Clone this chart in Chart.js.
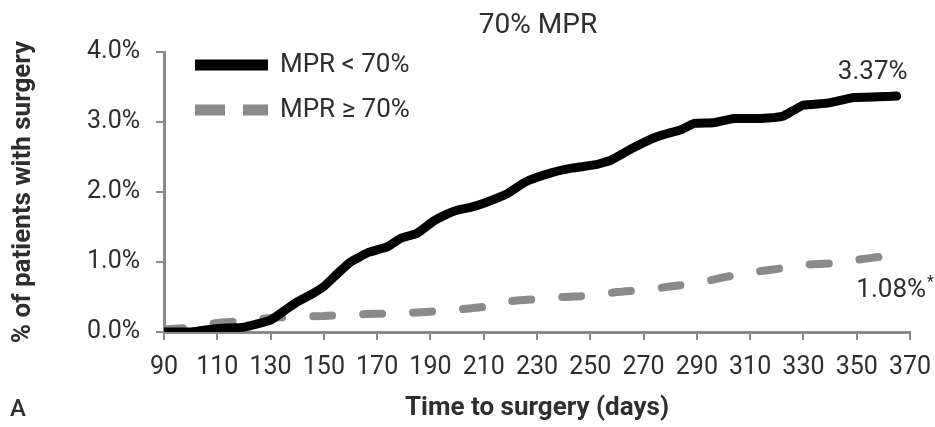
<!DOCTYPE html>
<html lang="en">
<head>
  <meta charset="UTF-8" />
  <title>70% MPR</title>
  <script src="https://cdn.jsdelivr.net/npm/chart.js"></script>
  <style>
    html, body { margin: 0; padding: 0; background: #fff; }
    .wrap { width: 935px; height: 427px; position: relative; }
  </style>
</head>
<body>
  <div class="wrap"><canvas id="mprChart" width="935" height="427"></canvas></div>

  <script>
    // days since start, % of patients with surgery
    const daysLow = [90, 100, 110, 120, 130, 135, 140, 145, 150, 155, 160, 167, 174, 179, 185, 191, 196, 200, 205, 210, 219, 226, 235, 243, 252, 258, 266, 275, 284, 289, 296, 304, 314, 322, 326, 330, 339, 349, 358, 365];
    const mprLow = [0.0, 0.0, 0.05, 0.07, 0.17, 0.30, 0.43, 0.53, 0.65, 0.83, 1.0, 1.14, 1.22, 1.34, 1.41, 1.58, 1.68, 1.74, 1.78, 1.84, 1.98, 2.15, 2.27, 2.34, 2.39, 2.46, 2.63, 2.79, 2.89, 2.98, 2.99, 3.05, 3.05, 3.08, 3.16, 3.24, 3.27, 3.35, 3.36, 3.37];

    const daysHigh = [90, 100, 110, 120, 130, 140, 150, 160, 170, 180, 190, 200, 210, 220, 230, 240, 250, 260, 270, 280, 290, 300, 310, 320, 330, 340, 350, 360];
    const mprHigh = [0.04, 0.06, 0.13, 0.16, 0.20, 0.22, 0.23, 0.25, 0.26, 0.27, 0.29, 0.32, 0.36, 0.44, 0.47, 0.50, 0.52, 0.57, 0.60, 0.65, 0.70, 0.78, 0.85, 0.90, 0.96, 0.98, 1.03, 1.08];

    const seriesNames = ['MPR < 70%', 'MPR \u2265 70%'];
    const endLabels = ['3.37%', '1.08%'];
    const xTicks = { min: 90, max: 370, step: 20 };
    const yTicks = { min: 0, max: 4, step: 1 };

    const FONT = 'Roboto, "Open Sans", sans-serif';
    const TEXT = '#2e2e2e';
    const AXIS = '#8a8a8a';

    const toPoints = (xs, ys) => xs.map((x, i) => ({ x: x, y: ys[i] }));

    // title, legend, panel letter and end-of-line labels
    const extras = {
      id: 'extras',
      afterDraw(chart) {
        const ctx = chart.ctx;
        const xs = chart.scales.x, ys = chart.scales.y;
        ctx.save();
        ctx.fillStyle = TEXT;
        ctx.textBaseline = 'middle';

        ctx.font = '28px ' + FONT;
        ctx.textAlign = 'center';
        ctx.fillText('70% MPR', 538, 26);

        ctx.font = '500 24px ' + FONT;
        ctx.textAlign = 'left';
        ctx.fillText('A', 10, 410);

        // legend
        ctx.lineWidth = 11;
        ctx.strokeStyle = '#000';
        ctx.beginPath(); ctx.moveTo(195, 65); ctx.lineTo(268, 65); ctx.stroke();
        ctx.strokeStyle = AXIS;
        ctx.setLineDash([30, 18]);
        ctx.beginPath(); ctx.moveTo(195, 110); ctx.lineTo(268, 110); ctx.stroke();
        ctx.setLineDash([]);
        ctx.font = '26px ' + FONT;
        ctx.fillText(seriesNames[0], 280, 65);
        ctx.fillText(seriesNames[1], 280, 110);

        // end values
        const lastLow = daysLow.length - 1, lastHigh = daysHigh.length - 1;
        ctx.textAlign = 'center';
        ctx.fillText(endLabels[0], xs.getPixelForValue(daysLow[lastLow]) - 24, ys.getPixelForValue(mprLow[lastLow]) - 24);
        ctx.textAlign = 'left';
        const ex = xs.getPixelForValue(daysHigh[lastHigh]) - 27;
        const ey = ys.getPixelForValue(mprHigh[lastHigh]) + 34;
        ctx.fillText(endLabels[1], ex, ey);
        const w = ctx.measureText(endLabels[1]).width;
        ctx.font = '16px ' + FONT;
        ctx.fillText('*', ex + w + 1, ey - 7);
        ctx.restore();
      }
    };

    new Chart(document.getElementById('mprChart'), {
      type: 'line',
      data: {
        datasets: [
          {
            label: seriesNames[0],
            data: toPoints(daysLow, mprLow),
            borderColor: '#000',
            borderWidth: 9,
            borderCapStyle: 'round',
            borderJoinStyle: 'round',
            pointRadius: 0,
            tension: 0.15
          },
          {
            label: seriesNames[1],
            data: toPoints(daysHigh, mprHigh),
            borderColor: AXIS,
            borderWidth: 8,
            borderDash: [19, 31],
            borderCapStyle: 'round',
            pointRadius: 0,
            tension: 0.2
          }
        ]
      },
      options: {
        responsive: false,
        animation: false,
        layout: { padding: { left: 0, right: 25, top: 52, bottom: 0 } },
        plugins: {
          legend: { display: false },
          tooltip: { enabled: false }
        },
        scales: {
          x: {
            type: 'linear',
            min: xTicks.min,
            max: xTicks.max,
            // fixed axis height; last label is allowed to run into the right margin
            afterFit: s => { s.height = 95; s.paddingRight = 0; s.paddingLeft = 0; },
            ticks: { stepSize: xTicks.step, color: TEXT, padding: 13, font: { family: FONT, size: 25 } },
            grid: { drawOnChartArea: false, drawTicks: true, tickLength: 8, color: AXIS, lineWidth: 2 },
            border: { color: AXIS, width: 3 },
            title: { display: true, text: 'Time to surgery (days)', color: TEXT, padding: { top: 0, bottom: 3 }, font: { family: FONT, size: 26, weight: 'bold' } }
          },
          y: {
            min: yTicks.min,
            max: yTicks.max,
            afterFit: s => { s.width = 164; },
            ticks: { stepSize: yTicks.step, color: TEXT, padding: 16, font: { family: FONT, size: 25 }, callback: v => v.toFixed(1) + '%' },
            grid: { drawOnChartArea: false, drawTicks: true, tickLength: 8, color: AXIS, lineWidth: 2 },
            border: { color: AXIS, width: 3 },
            title: { display: true, text: '% of patients with surgery', color: TEXT, padding: { top: 8, bottom: 0 }, font: { family: FONT, size: 26, weight: 'bold' } }
          }
        }
      },
      plugins: [extras]
    });
  </script>
</body>
</html>
